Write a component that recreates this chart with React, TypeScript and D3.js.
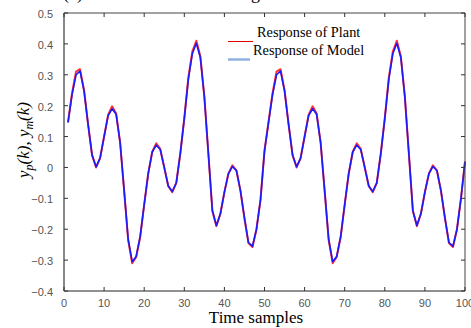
import React from "react";
import * as d3 from "d3";

const samples: number[] = d3.range(1, 101);

const plant: number[] = [
  0.147, 0.24, 0.31, 0.318, 0.25, 0.14, 0.04, 0.0, 0.03, 0.1,
  0.17, 0.198, 0.175, 0.08, -0.075, -0.235, -0.31, -0.29, -0.225, -0.12,
  -0.02, 0.05, 0.078, 0.06, 0.0, -0.06, -0.08, -0.05, 0.045, 0.16,
  0.29, 0.375, 0.41, 0.36, 0.23, 0.045, -0.14, -0.19, -0.15, -0.08,
  -0.02, 0.007, -0.01, -0.075, -0.165, -0.245, -0.258, -0.2, -0.105, 0.055,
  0.147, 0.24, 0.31, 0.318, 0.25, 0.14, 0.04, 0.0, 0.03, 0.1,
  0.17, 0.198, 0.175, 0.08, -0.075, -0.235, -0.31, -0.29, -0.225, -0.12,
  -0.02, 0.05, 0.078, 0.06, 0.0, -0.06, -0.08, -0.05, 0.045, 0.16,
  0.29, 0.375, 0.41, 0.36, 0.23, 0.045, -0.14, -0.19, -0.15, -0.08,
  -0.02, 0.007, -0.01, -0.075, -0.165, -0.245, -0.258, -0.2, -0.1, 0.02,
];

const model: number[] = [
  0.145, 0.235, 0.3, 0.312, 0.248, 0.14, 0.04, 0.002, 0.03, 0.1,
  0.168, 0.19, 0.172, 0.08, -0.075, -0.232, -0.305, -0.288, -0.223, -0.12,
  -0.02, 0.05, 0.072, 0.058, 0.0, -0.06, -0.078, -0.05, 0.045, 0.158,
  0.285, 0.368, 0.402, 0.356, 0.228, 0.045, -0.14, -0.188, -0.15, -0.08,
  -0.02, 0.003, -0.01, -0.075, -0.163, -0.243, -0.255, -0.2, -0.105, 0.053,
  0.145, 0.235, 0.3, 0.312, 0.248, 0.14, 0.04, 0.002, 0.03, 0.1,
  0.168, 0.19, 0.172, 0.08, -0.075, -0.232, -0.305, -0.288, -0.223, -0.12,
  -0.02, 0.05, 0.072, 0.058, 0.0, -0.06, -0.078, -0.05, 0.045, 0.158,
  0.285, 0.368, 0.402, 0.356, 0.228, 0.045, -0.14, -0.188, -0.15, -0.08,
  -0.02, 0.003, -0.01, -0.075, -0.163, -0.243, -0.255, -0.2, -0.1, 0.018,
];

const xTicks: number[] = [0, 10, 20, 30, 40, 50, 60, 70, 80, 90, 100];
const yTicks: number[] = [-0.4, -0.3, -0.2, -0.1, 0, 0.1, 0.2, 0.3, 0.4, 0.5];
const legendLabels: string[] = ["Response of Plant", "Response of Model"];

const W = 471;
const H = 328;
const L = 64, R = 465, T = 13, B = 291;

export default function App() {
  const x = d3.scaleLinear().domain([0, 100]).range([L, R]);
  const y = d3.scaleLinear().domain([-0.4, 0.5]).range([B, T]);
  const line = d3
    .line<number>()
    .x((_, i) => x(samples[i]))
    .y((d) => y(d));
  const tickFont = "'Liberation Sans', Arial, sans-serif";
  const serif = "'Liberation Serif', 'Times New Roman', serif";
  const fmt = (v: number) => (v === 0 ? "0" : d3.format(".1f")(v));
  return (
    <svg
      width={W}
      height={H}
      style={{ position: "absolute", left: 0, top: 0, background: "#fff" }}
    >
      <rect x={0} y={0} width={W} height={H} fill="#fff" />
      {/* clipped title */}
      <text x={63} y={-1.5} fontFamily={serif} fontSize={18} fill="#000">(a)</text>
      <text x={260} y={-1.5} textAnchor="end" fontFamily={serif} fontSize={18} fill="#000">Testing</text>

      {/* data */}
      <path d={line(plant) || ""} fill="none" stroke="#ff3030" strokeWidth={2} strokeLinejoin="round" />
      <path d={line(model) || ""} fill="none" stroke="#1a1aff" strokeWidth={1.6} strokeLinejoin="round" />

      {/* frame */}
      <line x1={L} x2={R} y1={T} y2={T} stroke="#444" strokeWidth={1} />
      <line x1={R} x2={R} y1={T} y2={B} stroke="#444" strokeWidth={1} />
      <line x1={L} x2={R} y1={B} y2={B} stroke="#222" strokeWidth={1.2} />
      <line x1={L} x2={L} y1={T} y2={B} stroke="#888" strokeWidth={2} />

      {/* x ticks */}
      {xTicks.map((t) => (
        <g key={"x" + t}>
          <line x1={x(t)} x2={x(t)} y1={B} y2={B - 4} stroke="#333" />
          <line x1={x(t)} x2={x(t)} y1={T} y2={T + 4} stroke="#333" />
          <text x={x(t)} y={307} textAnchor="middle" fontFamily={tickFont} fontSize={11} fill="#555">
            {t}
          </text>
        </g>
      ))}
      {/* y ticks */}
      {yTicks.map((t) => (
        <g key={"y" + t}>
          <line x1={L} x2={L + 4} y1={y(t)} y2={y(t)} stroke="#333" />
          <line x1={R} x2={R - 4} y1={y(t)} y2={y(t)} stroke="#333" />
          <text x={53} y={y(t) + 5} textAnchor="end" fontFamily={tickFont} fontSize={11} fill="#555">
            {fmt(t)}
          </text>
        </g>
      ))}

      {/* legend */}
      <line x1={228} x2={253} y1={41.5} y2={41.5} stroke="#e00000" strokeWidth={1} />
      <text x={257} y={37} fontFamily={serif} fontSize={14.3} fill="#000">{legendLabels[0]}</text>
      <line x1={228} x2={250} y1={59.5} y2={59.5} stroke="#8fb0e0" strokeWidth={2.5} />
      <text x={253} y={55} fontFamily={serif} fontSize={14.3} fill="#000">{legendLabels[1]}</text>

      {/* axis labels */}
      <text x={256} y={323} textAnchor="middle" fontFamily={serif} fontSize={17} fill="#000">
        Time samples
      </text>
      <text
        transform={`translate(29,140) rotate(-90)`}
        textAnchor="middle"
        fontFamily={serif}
        fontSize={17}
        fontStyle="italic"
        fill="#000"
      >
        y<tspan fontSize={12} dy={4}>p</tspan>
        <tspan dy={-4}>(k), y</tspan>
        <tspan fontSize={12} dy={4}>m</tspan>
        <tspan dy={-4}>(k)</tspan>
      </text>
    </svg>
  );
}
